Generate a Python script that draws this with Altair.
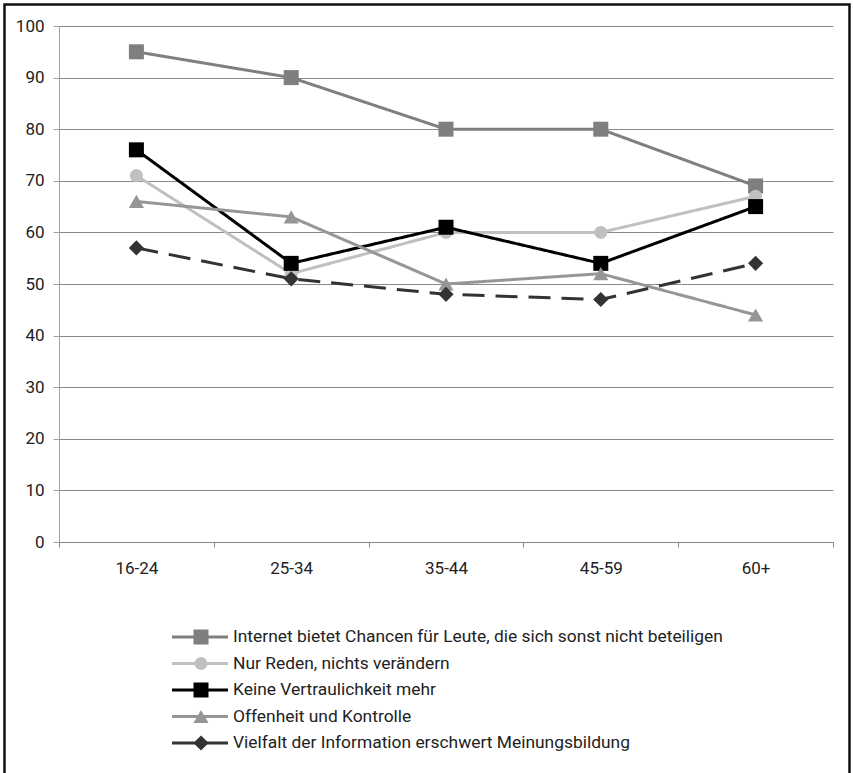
import altair as alt
import pandas as pd

# Age groups and the five statements
ages = ["16-24", "25-34", "35-44", "45-59", "60+"]
series = [
    "Internet bietet Chancen für Leute, die sich sonst nicht beteiligen",
    "Nur Reden, nichts verändern",
    "Keine Vertraulichkeit mehr",
    "Offenheit und Kontrolle",
    "Vielfalt der Information erschwert Meinungsbildung",
]

# Share of agreement per age group (percent)
chancen = [95, 90, 80, 80, 69]
nur_reden = [71, 52, 60, 60, 67]
vertraulichkeit = [76, 54, 61, 54, 65]
offenheit = [66, 63, 50, 52, 44]
vielfalt = [57, 51, 48, 47, 54]

values = [chancen, nur_reden, vertraulichkeit, offenheit, vielfalt]
rows = []
for name, vals in zip(series, values):
    for age, v in zip(ages, vals):
        rows.append({"Alter": age, "Wert": v, "Aussage": name})
df = pd.DataFrame(rows)
legend_df = pd.DataFrame({"Aussage": series})

FONT = "Roboto"
FS = 17
LEG_FS = 17.4

colors = ["#7f7f7f", "#c0c0c0", "#000000", "#969696", "#333333"]
shapes = ["square", "circle", "square", "triangle-up", "diamond"]
sizes = [225, 170, 225, 230, 230]

color = alt.Color("Aussage:N", scale=alt.Scale(domain=series, range=colors), legend=None)
shape = alt.Shape("Aussage:N", scale=alt.Scale(domain=series, range=shapes), legend=None)
size = alt.Size(
    "Aussage:N",
    scale=alt.Scale(type="ordinal", domain=series, range=sizes),
    legend=None,
)
dash = alt.StrokeDash(
    "Aussage:N",
    scale=alt.Scale(domain=series, range=[[1, 0], [1, 0], [1, 0], [1, 0], [22, 11]]),
    legend=None,
)

x = alt.X(
    "Alter:N",
    sort=ages,
    title=None,
    scale=alt.Scale(type="band", paddingInner=0, paddingOuter=0),
    axis=alt.Axis(
        labelAngle=0,
        tickBand="extent",
        tickSize=5,
        labelPadding=13,
        domainColor="#888888",
        tickColor="#888888",
        labelFontSize=FS,
        labelColor="#222222",
        labelFont=FONT,
    ),
)
y = alt.Y(
    "Wert:Q",
    title=None,
    scale=alt.Scale(domain=[0, 100], nice=False, zero=True),
    axis=alt.Axis(
        values=list(range(0, 101, 10)),
        grid=True,
        gridColor="#8a8a8a",
        gridWidth=1,
        domainColor="#a0a0a0",
        tickColor="#a0a0a0",
        tickSize=6,
        labelPadding=9,
        labelFontSize=FS,
        labelColor="#222222",
        labelFont=FONT,
    ),
)

lines = alt.Chart(df).mark_line(strokeWidth=3, strokeCap="butt").encode(
    x=x, y=y, color=color, strokeDash=dash
)
points = alt.Chart(df).mark_point(filled=True, opacity=1, strokeWidth=0).encode(
    x=x, y=y, color=color, shape=shape, size=size
)
plot = alt.layer(lines, points)

# Legend drawn below the plot, one row per statement
ly = alt.Y(
    "Aussage:N",
    sort=series,
    scale=alt.Scale(type="point", domain=series, range=[611, 717], padding=0),
    axis=None,
)
leg_rule = alt.Chart(legend_df).mark_rule(strokeWidth=3).encode(
    x=alt.value(113), x2=alt.value(169), y=ly, color=color
)
leg_point = alt.Chart(legend_df).mark_point(filled=True, opacity=1, strokeWidth=0).encode(
    x=alt.value(142), y=ly, color=color, shape=shape, size=size
)
leg_text = alt.Chart(legend_df).mark_text(
    align="left", baseline="middle", fontSize=LEG_FS, font=FONT, color="#222222"
).encode(x=alt.value(174), y=ly, text="Aussage:N")
legend = alt.layer(leg_rule, leg_point, leg_text)

# Outer frame around the whole figure
frame = alt.Chart(legend_df.head(1)).mark_rect(
    fill=None, stroke="#111111", strokeWidth=2.5, clip=False
).encode(x=alt.value(-54.5), x2=alt.value(790.5), y=alt.value(-21.5), y2=alt.value(800))

chart = (
    alt.layer(plot, legend, frame)
    .resolve_scale(y="independent")
    .properties(
        width=774,
        height=516,
        autosize=alt.AutoSizeParams(type="none"),
        padding={"left": 59, "top": 26, "right": 20, "bottom": 231},
        background="white",
    )
    .configure_view(stroke=None)
)

chart.save("out.html", embed_options={"renderer": "svg", "actions": False})
